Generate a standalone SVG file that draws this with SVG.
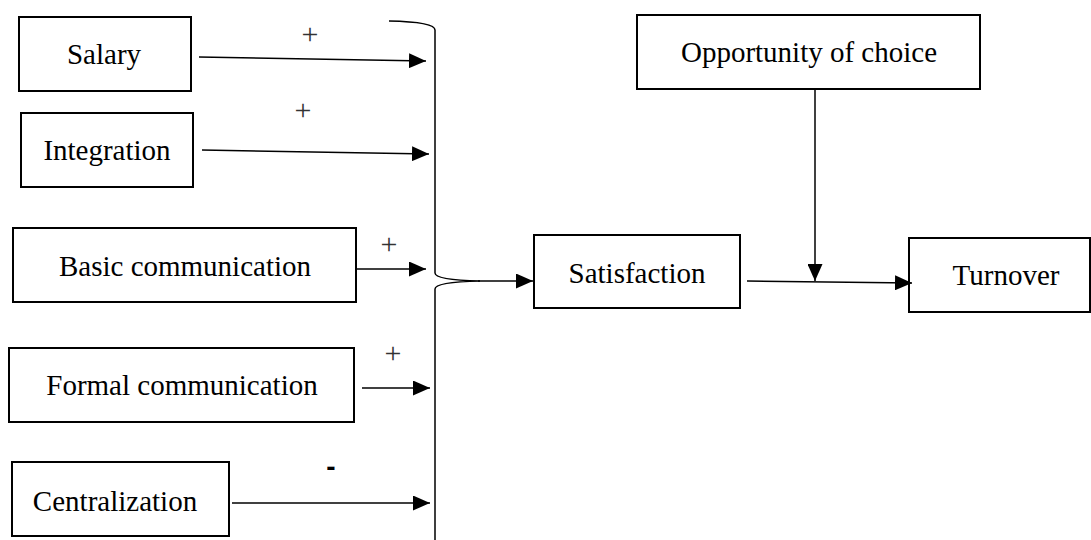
<svg xmlns="http://www.w3.org/2000/svg" width="1091" height="540" viewBox="0 0 1091 540">
<style>
.box{fill:#fff;stroke:#000;stroke-width:2}
.lbl{font-family:"Liberation Serif","Times New Roman",serif;font-size:29px;fill:#000;text-anchor:middle}
.sgn{font-family:"Liberation Serif","Times New Roman",serif;font-size:30px;fill:#333;text-anchor:middle}
.minus{font-family:"Liberation Sans",Arial,sans-serif;font-size:28px;font-weight:bold;fill:#000;text-anchor:middle}
.ln{fill:none;stroke:#000;stroke-width:1.5}
</style>
<defs>
<marker id="ah" viewBox="0 0 17 15" refX="17" refY="7.5" markerWidth="17" markerHeight="15" markerUnits="userSpaceOnUse" orient="auto">
<path d="M0,0 L17,7.5 L0,15 Z" fill="#000"/>
</marker>
</defs>
<rect width="1091" height="540" fill="#fff"/>
<g id="salary"><rect class="box" x="19" y="17" width="172" height="74"/><text class="lbl" x="104" y="64">Salary</text></g>
<g id="integration"><rect class="box" x="21" y="113" width="172" height="74"/><text class="lbl" x="107" y="160">Integration</text></g>
<g id="basic"><rect class="box" x="13" y="228" width="343" height="74"/><text class="lbl" x="185" y="276">Basic communication</text></g>
<g id="formal"><rect class="box" x="9" y="348" width="345" height="74"/><text class="lbl" x="182" y="395">Formal communication</text></g>
<g id="centralization"><rect class="box" x="12" y="462" width="217" height="74"/><text class="lbl" x="115" y="511">Centralization</text></g>
<g id="satisfaction"><rect class="box" x="534" y="235" width="206" height="73"/><text class="lbl" x="637" y="283">Satisfaction</text></g>
<g id="opportunity"><rect class="box" x="637" y="15" width="343" height="74"/><text class="lbl" x="809" y="62">Opportunity of choice</text></g>
<g id="turnover"><rect class="box" x="909" y="238" width="181" height="74"/><text class="lbl" x="1006" y="285">Turnover</text></g>
<g id="connectors">
<line class="ln" x1="199" y1="57" x2="426" y2="61" marker-end="url(#ah)"/>
<line class="ln" x1="202" y1="150" x2="429" y2="154" marker-end="url(#ah)"/>
<line class="ln" x1="357" y1="269" x2="426" y2="269" marker-end="url(#ah)"/>
<line class="ln" x1="362" y1="388" x2="430" y2="388" marker-end="url(#ah)"/>
<line class="ln" x1="232" y1="503" x2="430" y2="503" marker-end="url(#ah)"/>
<path class="ln" d="M389,21 Q435,22 435,30 L435,273 Q435,280 480,281 Q435,282 435,289 L435,540"/>
<line class="ln" x1="478" y1="281" x2="533" y2="281" marker-end="url(#ah)"/>
<line class="ln" x1="747" y1="281" x2="912" y2="283" marker-end="url(#ah)"/>
<line class="ln" x1="815" y1="89" x2="815" y2="281" marker-end="url(#ah)"/>
<text class="sgn" x="310" y="44">+</text>
<text class="sgn" x="303" y="120">+</text>
<text class="sgn" x="389" y="254">+</text>
<text class="sgn" x="393" y="363">+</text>
<text class="minus" x="331" y="476">-</text>
</g>
</svg>
